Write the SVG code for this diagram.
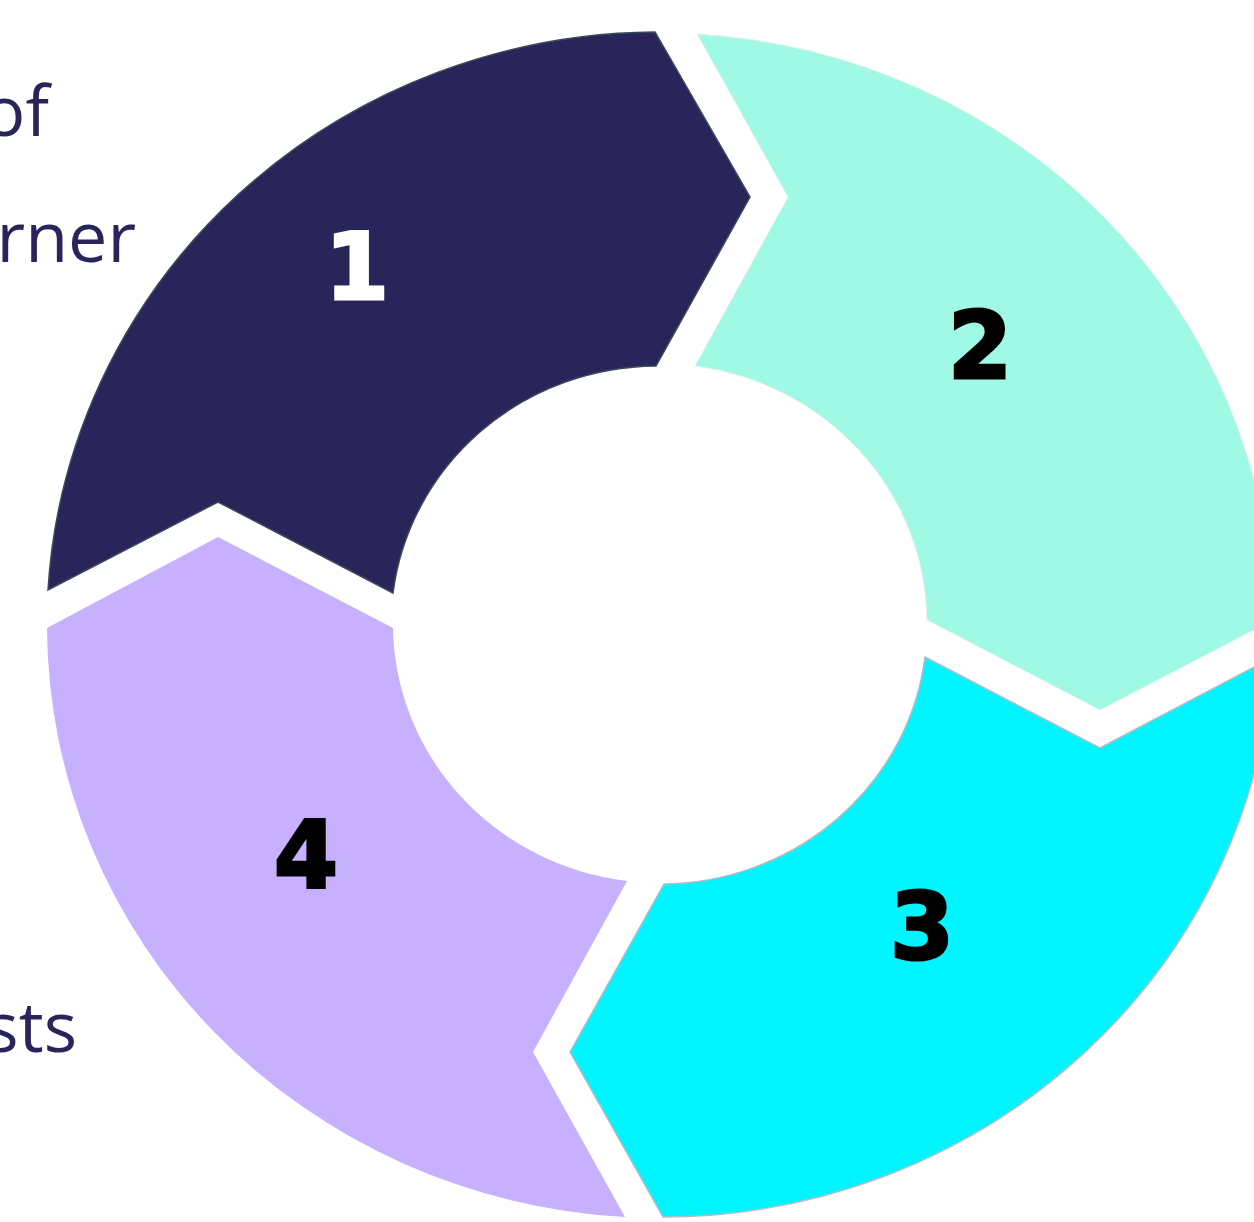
<svg xmlns="http://www.w3.org/2000/svg" width="1254" height="1222" viewBox="0 0 1254 1222">
<style>
.lbl{font-family:"Open Sans","Noto Sans",sans-serif;font-size:70px;fill:#29255A;text-anchor:end}
.num{font-family:"DejaVu Sans",sans-serif;font-weight:bold;font-size:92px;text-anchor:middle;stroke-width:3;stroke-linejoin:miter}
</style>
<rect width="1254" height="1222" fill="#ffffff"/>
<g id="text-left">
<text class="lbl" x="49" y="136">of</text>
<text class="lbl" x="136" y="262">rner</text>
<text class="lbl" x="77" y="1052">sts</text>
</g>
<g id="segment-1">
<path d="M48,590 A613,593 0 0 1 655,32 L750,197 L656,366 A267,259 0 0 0 393,593 L218,502 Z" fill="#29255A" stroke="#3b4a5a" stroke-width="1.5"/>
<text class="num" x="357" y="299" fill="#ffffff" stroke="#ffffff">1</text>
</g>
<g id="segment-2">
<path d="M697,34 A613,593 0 0 1 1273,620 L1100,710 L927,620 A267,259 0 0 0 695,366 L788,197 Z" fill="#A0F9E4" stroke="#e6f2f0" stroke-width="1"/>
<text class="num" x="980" y="378" fill="#000000" stroke="#000000">2</text>
</g>
<g id="segment-3">
<path d="M1273,657 A613,593 0 0 1 663,1217 L570,1052 L664,884 A267,259 0 0 0 925,657 L1100,748 Z" fill="#00F5FF" stroke="#b4bcc6" stroke-width="1.5"/>
<text class="num" x="922" y="959" fill="#000000" stroke="#000000">3</text>
</g>
<g id="segment-4">
<path d="M625,1217 A613,593 0 0 1 47,628 L218,537 L393,628 A267,259 0 0 0 627,881 L533,1052 Z" fill="#C7B1FF"/>
<text class="num" x="306" y="887" fill="#000000" stroke="#000000">4</text>
</g>
<g id="connectors"></g>
</svg>
